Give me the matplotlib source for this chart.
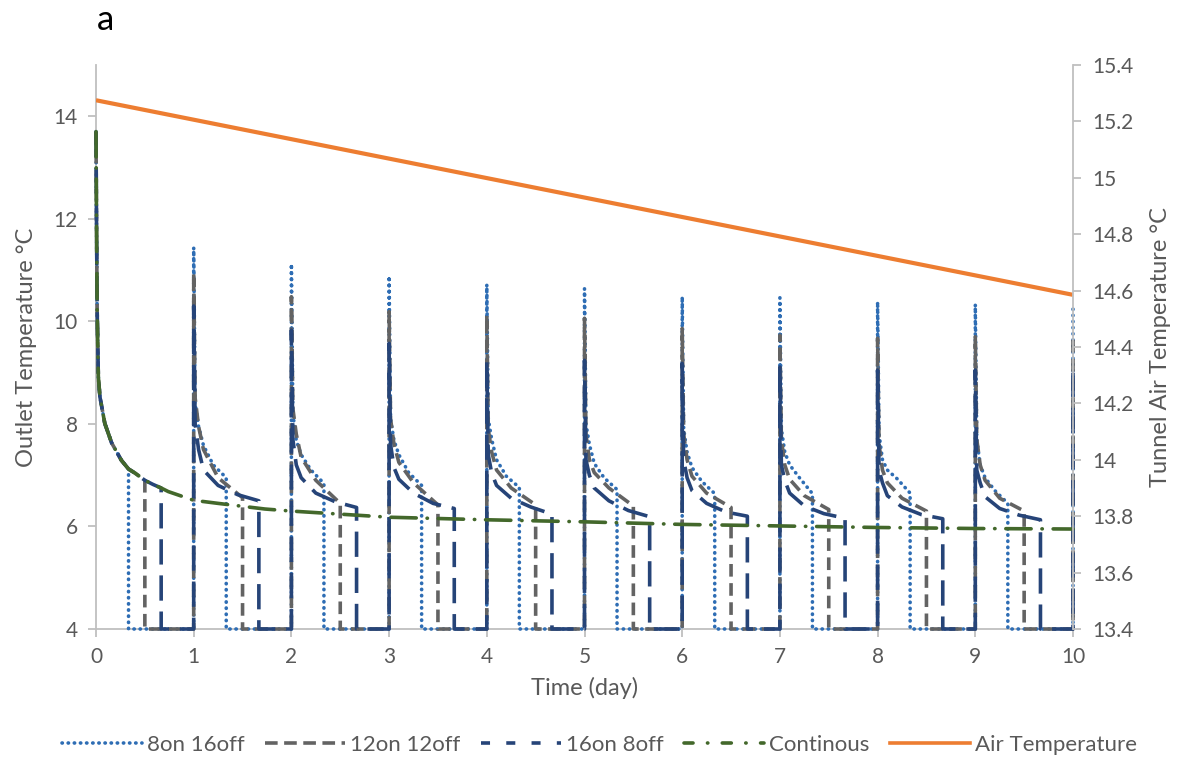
import matplotlib
matplotlib.use("Agg")
import matplotlib.pyplot as plt
from matplotlib.lines import Line2D

# ---------------- data ----------------
# Continuous operation outlet temperature
cont_t = [0, 0.005, 0.012, 0.024, 0.04, 0.09, 0.16, 0.26, 0.333, 0.4, 0.5, 0.583, 0.667,
          0.74, 1.0, 1.25, 1.73, 2, 2.5, 3, 4, 5, 6, 7, 8, 9, 10]
cont_v = [13.7, 12.0, 10.2, 8.92, 8.53, 8.01, 7.63, 7.29, 7.12, 7.04, 6.9, 6.82, 6.75,
          6.68, 6.51, 6.45, 6.34, 6.3, 6.24, 6.18, 6.13, 6.09, 6.04, 6.01, 5.98, 5.96, 5.95]

off_level = 4.0
cycle_days = [1, 2, 3, 4, 5, 6, 7, 8, 9]

# 8on 16off
on_8 = 0.333
peak_8 = [11.44, 11.12, 10.88, 10.72, 10.64, 10.48, 10.46, 10.38, 10.33, 10.35]
offs_8 = [0.015, 0.05, 0.1, 0.2, 0.333]
dec_8 = [[8.40, 7.95, 7.58, 7.20, 6.95],
         [8.20, 7.68, 7.40, 7.10, 6.84],
         [8.10, 7.68, 7.40, 7.05, 6.80],
         [8.10, 7.70, 7.30, 6.98, 6.76],
         [8.00, 7.60, 7.23, 6.95, 6.72],
         [7.90, 7.45, 7.15, 6.88, 6.64],
         [7.90, 7.45, 7.20, 6.95, 6.64],
         [7.80, 7.30, 7.10, 6.93, 6.65],
         [7.70, 7.20, 6.95, 6.70, 6.45]]

# 12on 12off
on_12 = 0.5
peak_12 = [10.94, 10.48, 10.19, 10.12, 10.06, 9.86, 9.73, 9.67, 9.70, 9.65]
offs_12 = [0.015, 0.05, 0.1, 0.25, 0.5]
dec_12 = [[8.50, 7.95, 7.50, 6.95, 6.56],
          [8.30, 7.80, 7.35, 6.90, 6.45],
          [8.10, 7.60, 7.25, 6.85, 6.42],
          [7.90, 7.45, 7.10, 6.75, 6.42],
          [7.80, 7.30, 7.05, 6.75, 6.40],
          [7.80, 7.30, 6.98, 6.65, 6.37],
          [7.70, 7.20, 6.92, 6.60, 6.33],
          [7.60, 7.10, 6.85, 6.55, 6.30],
          [7.70, 7.20, 6.90, 6.55, 6.30]]

# 16on 8off
on_16 = 0.667
peak_16 = [10.30, 9.83, 9.57, 9.21, 9.24, 9.18, 9.11, 9.05, 9.05, 9.00]
offs_16 = [0.015, 0.05, 0.1, 0.25, 0.45, 0.667]
dec_16 = [[8.00, 7.50, 7.10, 6.80, 6.62, 6.50],
          [7.70, 7.20, 6.95, 6.65, 6.48, 6.37],
          [7.60, 7.15, 6.92, 6.65, 6.45, 6.35],
          [7.40, 7.04, 6.80, 6.55, 6.38, 6.24],
          [7.30, 7.00, 6.75, 6.50, 6.31, 6.19],
          [7.30, 6.95, 6.70, 6.45, 6.28, 6.20],
          [7.20, 6.90, 6.65, 6.40, 6.25, 6.16],
          [7.10, 6.85, 6.60, 6.38, 6.23, 6.15],
          [7.10, 6.85, 6.58, 6.35, 6.22, 6.13]]

# Tunnel air temperature (secondary axis)
air_t = [0, 10]
air_v = [15.275, 14.585]

x_ticks = [0, 1, 2, 3, 4, 5, 6, 7, 8, 9, 10]
y1_ticks = [4, 6, 8, 10, 12, 14]
y2_ticks = [13.4, 13.6, 13.8, 14.0, 14.2, 14.4, 14.6, 14.8, 15.0, 15.2, 15.4]
y2_labels = ["13.4", "13.6", "13.8", "14", "14.2", "14.4", "14.6", "14.8", "15", "15.2", "15.4"]


def build(on, peaks, offs, decs):
    xs = [t for t in cont_t if t <= on + 1e-9]
    ys = cont_v[:len(xs)]
    xs = xs + [on, 1]
    ys = ys + [off_level, off_level]
    for i, d in enumerate(cycle_days):
        xs += [d, d]
        ys += [off_level, peaks[i]]
        for o, v in zip(offs, decs[i]):
            xs.append(d + o)
            ys.append(v)
        xs += [d + on, d + 1]
        ys += [off_level, off_level]
    xs += [10, 10]
    ys += [off_level, peaks[-1]]
    return xs, ys


plt.rcParams['font.family'] = ['Lato', 'DejaVu Sans']
txt = '#595959'
spine_c = '#BFBFBF'

fig = plt.figure(figsize=(11.87, 7.65), dpi=100)
ax = fig.add_axes([96 / 1187, 1 - 629 / 765, (1073 - 96) / 1187, (629 - 65) / 765])
ax2 = ax.twinx()

c8, c12, c16, cc, ca = '#2E6DB4', '#636363', '#264478', '#43682B', '#ED7D31'
lw = 2.6

x8, y8 = build(on_8, peak_8, offs_8, dec_8)
x12, y12 = build(on_12, peak_12, offs_12, dec_12)
x16, y16 = build(on_16, peak_16, offs_16, dec_16)

ls8 = (0, (0.1, 1.6))
ls12 = (0, (3.5, 1.8))
ls16 = (0, (7, 3))
lsc = (0, (7, 3, 0.1, 3))

ax.plot(x8, y8, color=c8, lw=lw, ls=ls8, dash_capstyle='round',
        solid_joinstyle='round', clip_on=False, zorder=3)
ax.plot(x12, y12, color=c12, lw=lw, ls=ls12, clip_on=False, zorder=4)
ax.plot(x16, y16, color=c16, lw=lw, ls=ls16, clip_on=False, zorder=5)
ax.plot(cont_t, cont_v, color=cc, lw=lw, ls=lsc, dash_capstyle='round',
        clip_on=False, zorder=6)
ax2.plot(air_t, air_v, color=ca, lw=3.0, solid_capstyle='butt')

ax.set_xlim(0, 10)
ax.set_ylim(4, 15)
ax2.set_ylim(13.4, 15.4)
ax.set_xticks(x_ticks)
ax.set_xticklabels([str(v) for v in x_ticks])
ax.set_yticks(y1_ticks)
ax2.set_yticks(y2_ticks)
ax2.set_yticklabels(y2_labels)

for a in (ax, ax2):
    for s in a.spines.values():
        s.set_color(spine_c)
        s.set_linewidth(1.3)
    a.spines['top'].set_visible(False)
    a.tick_params(colors=spine_c, labelcolor=txt, labelsize=15, length=6, width=1.3)
ax.spines['right'].set_visible(False)
ax2.spines['left'].set_visible(False)
ax2.spines['bottom'].set_visible(False)

ax.tick_params(axis='x', pad=7)
ax.tick_params(axis='y', pad=7)
ax2.tick_params(axis='y', pad=8)

ax.set_xlabel('Time (day)', fontsize=17, color=txt, labelpad=7)
ax.set_ylabel('Outlet Temperature °C', fontsize=17, color=txt, labelpad=12)
ax2.set_ylabel('Tunnel Air Temperature °C', fontsize=17, color=txt, labelpad=12)

fig.text(97 / 1187, 1 - 20 / 765, 'a', fontsize=25, color='black', ha='left', va='center')

handles = [
    Line2D([], [], color=c8, lw=lw, ls=ls8, dash_capstyle='round'),
    Line2D([], [], color=c12, lw=lw, ls=ls12),
    Line2D([], [], color=c16, lw=lw, ls=(0, (2.5, 4.5))),
    Line2D([], [], color=cc, lw=lw, ls=(0, (2.5, 4, 0.1, 4)), dash_capstyle='round'),
    Line2D([], [], color=ca, lw=lw),
]
labels = ['8on 16off', '12on 12off', '16on 8off', 'Continous', 'Air Temperature']
fig.legend(handles, labels, loc='center', bbox_to_anchor=(0.505, 1 - 745 / 765), ncol=5,
           frameon=False, fontsize=16, labelcolor=txt, handlelength=3.6,
           handletextpad=0.25, columnspacing=0.9)

fig.savefig('out.png', dpi=100)
